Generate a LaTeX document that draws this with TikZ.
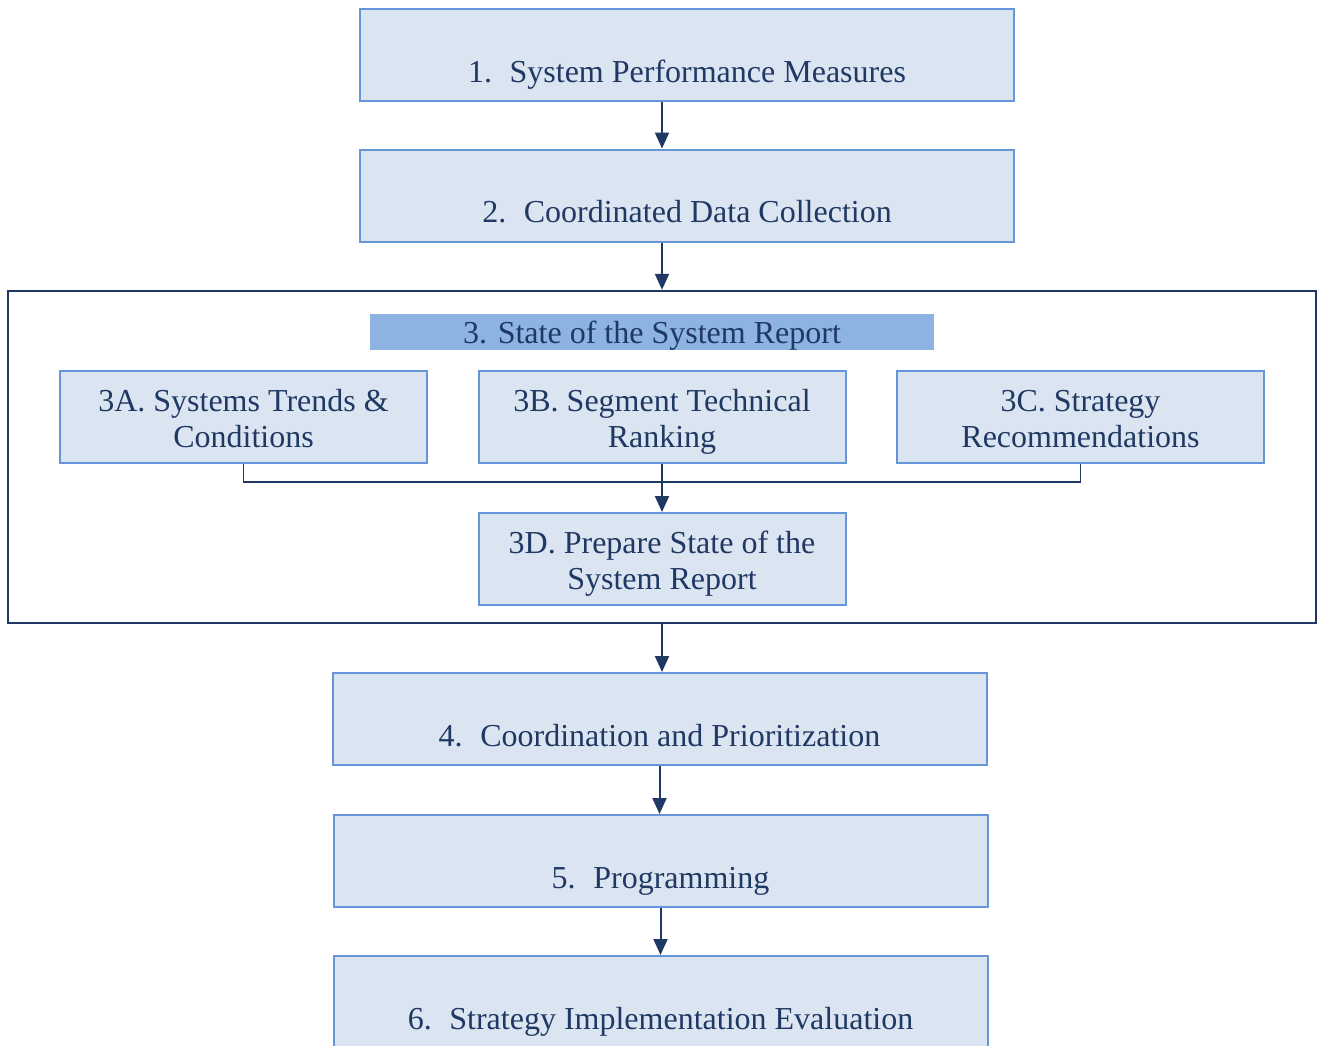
\documentclass[tikz,border=0pt]{standalone}
\usepackage{fontspec}
\setmainfont{Liberation Serif}
\usepackage{xcolor}
\definecolor{navy}{RGB}{31,56,100}
\definecolor{boxfill}{RGB}{219,229,241}
\definecolor{boxline}{RGB}{102,149,218}
\definecolor{barfill}{RGB}{141,179,226}
\usetikzlibrary{arrows.meta,positioning}

\begin{document}
\begin{tikzpicture}[x=0.5pt, y=-0.5pt,
  stepbox/.style={draw=boxline, fill=boxfill, line width=1pt, minimum width=327pt, minimum height=46pt, inner sep=0pt, text=navy, align=center, font=\fontsize{16}{18}\selectfont},
  subbox/.style={stepbox, minimum width=183.5pt},
  flow/.style={-{Triangle[length=8pt,width=7pt]}, line width=1pt, draw=navy}
]
\useasboundingbox (0,0) rectangle (1318,1045);

% main steps
\node[stepbox] (b1) at (687, 55) {\rule{0pt}{14.6pt}\\1.\hspace{0.55em}System Performance Measures\strut};
\node[stepbox] (b2) at (687, 195.5) {\rule{0pt}{14.6pt}\\2.\hspace{0.55em}Coordinated Data Collection\strut};

% step 3 frame with its sub-steps
\node[draw=navy, line width=1.2pt, minimum width=654pt, minimum height=166pt, inner sep=0pt] (frame) at (662, 457) {};
\node[fill=barfill, minimum width=282pt, minimum height=18pt, inner sep=0pt, text height=11.1pt, text depth=0pt, text=navy, font=\fontsize{16}{18}\selectfont] (title) at (652, 332) {3. State of the System Report};
\node[subbox] (b3a) at (243.5, 417) {\rule{0pt}{17.6pt}3A. Systems Trends \&\\Conditions\strut};
\node[subbox] (b3b) at (662, 417) {\rule{0pt}{17.6pt}3B. Segment Technical\\Ranking\strut};
\node[subbox] (b3c) at (1080.5, 417) {\rule{0pt}{17.6pt}3C. Strategy\\Recommendations\strut};
\node[subbox] (b3d) at (662, 559) {\rule{0pt}{17.6pt}3D. Prepare State of the\\System Report\strut};

\node[stepbox] (b4) at (659.5, 719) {\rule{0pt}{14.6pt}\\4.\hspace{0.55em}Coordination and Prioritization\strut};
\node[stepbox] (b5) at (660.5, 861) {\rule{0pt}{14.6pt}\\5.\hspace{0.55em}Programming\strut};
\node[stepbox] (b6) at (660.5, 1002) {\rule{0pt}{14.6pt}\\6.\hspace{0.55em}Strategy Implementation Evaluation\strut};

% connectors
\draw[flow] (b3b |- b1.south) -- (b3b |- b2.north);
\draw[flow] (b3b |- b2.south) -- (b3b |- frame.north);
\draw[navy, line width=0.8pt] (b3a.south) -- ++(0,18) -| (b3c.south);
\draw[flow] (b3b.south) -- (b3d.north);
\draw[flow] (b3d |- frame.south) -- (b3d |- b4.north);
\draw[flow] (b4.south) -- (b4.south |- b5.north);
\draw[flow] (b5.south) -- (b6.north);
\end{tikzpicture}
\end{document}
